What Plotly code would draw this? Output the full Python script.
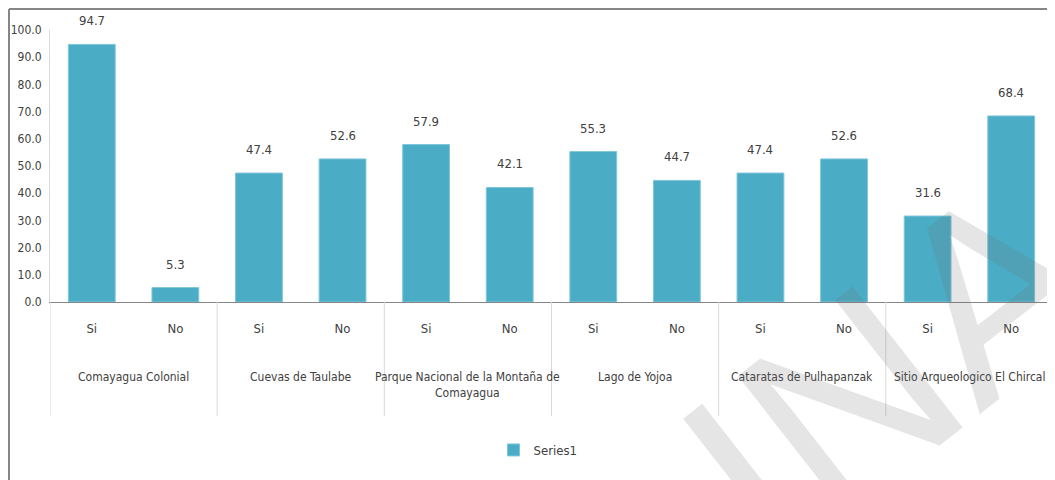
import plotly.graph_objects as go

sites = ["Comayagua Colonial", "Cuevas de Taulabe",
         "Parque Nacional de la Montaña de<br>Comayagua", "Lago de Yojoa",
         "Cataratas de Pulhapanzak", "Sitio Arqueologico El Chircal"]
answers = ["Si", "No"]
values = [94.7, 5.3, 47.4, 52.6, 57.9, 42.1, 55.3, 44.7, 47.4, 52.6, 31.6, 68.4]
y_ticks = [0, 10, 20, 30, 40, 50, 60, 70, 80, 90, 100]

BAR = "#4BACC6"
TXT = "#404040"
FONT = "DejaVu Sans Condensed, DejaVu Sans, sans-serif"
FS = 13

# page has an 8px body margin, so the figure is laid out 8px up/left
OFF = 8
W, H = 1055 - OFF, 480 - OFF
L, R, T, B = 50 - OFF, 2, 30 - OFF, 480 - 302
PW, PH = W - L - R, H - T - B


def px_x(p):
    # page pixel -> paper x
    return (p - OFF - L) / PW


def px_y(p):
    # page pixel -> paper y
    return (H - B - (p - OFF)) / PH


cats = [f"{s}|{a}" for s in sites for a in answers]
subs = answers * len(sites)

fig = go.Figure(go.Bar(
    x=cats, y=values, name="Series1",
    marker=dict(color=BAR, line=dict(color="#7FC6DA", width=1)),
))

# data labels
for c, v in zip(cats, values):
    fig.add_annotation(x=c, y=v, xref="x", yref="y", text=f"{v:.1f}",
                       showarrow=False, yanchor="bottom", yshift=14,
                       font=dict(size=FS, color=TXT))

# group labels and dividers
for i, s in enumerate(sites):
    fig.add_annotation(x=2 * i + 0.5, xref="x", y=px_y(368), yref="paper",
                       text=s, showarrow=False, yanchor="top",
                       font=dict(size=12, color=TXT))
for k in range(len(sites) + 1):
    fig.add_shape(type="line", xref="x", yref="paper", x0=2 * k - 0.5, x1=2 * k - 0.5,
                  y0=0, y1=px_y(416), line=dict(color="#D9D9D9", width=1))

fig.update_layout(
    width=W, height=H,
    paper_bgcolor="white", plot_bgcolor="white",
    margin=dict(l=L, r=R, t=T, b=B, autoexpand=False),
    bargap=0.44,
    font=dict(family=FONT, size=FS, color=TXT),
    showlegend=True,
    legend=dict(orientation="h", x=px_x(538), xanchor="center", y=px_y(450), yanchor="middle",
                font=dict(size=FS, color=TXT), itemwidth=30),
)
fig.update_xaxes(
    type="category", tickvals=cats, ticktext=subs, range=[-0.5, len(cats) - 0.5],
    showline=True, linecolor="#868686", linewidth=1, showgrid=False,
    tickfont=dict(size=FS, color=TXT), ticks="", ticklabelstandoff=14,
)
fig.update_yaxes(
    range=[0, 100], tickvals=y_ticks, tickformat=".1f",
    showgrid=False, zeroline=False, showline=True, linecolor="#D9D9D9",
    tickfont=dict(size=12, color=TXT), ticks="", ticklabelstandoff=5,
)

# outer frame of the chart (cut at right and bottom)
fig.add_shape(type="line", xref="paper", yref="paper", x0=px_x(OFF + 1), x1=px_x(1070),
              y0=px_y(OFF + 1), y1=px_y(OFF + 1), line=dict(color="#868686", width=2))
fig.add_shape(type="line", xref="paper", yref="paper", x0=px_x(OFF + 1), x1=px_x(OFF + 1),
              y0=px_y(OFF + 1), y1=px_y(500), line=dict(color="#868686", width=2))

# faint diagonal watermark
fig.add_annotation(x=px_x(890), y=px_y(370), xref="paper", yref="paper", text="INA",
                   showarrow=False, textangle=-38, xanchor="center", yanchor="middle",
                   font=dict(family="Liberation Sans, Arial, sans-serif", size=260,
                             color="rgba(110,110,110,0.18)"))

fig.write_html("out.html")
